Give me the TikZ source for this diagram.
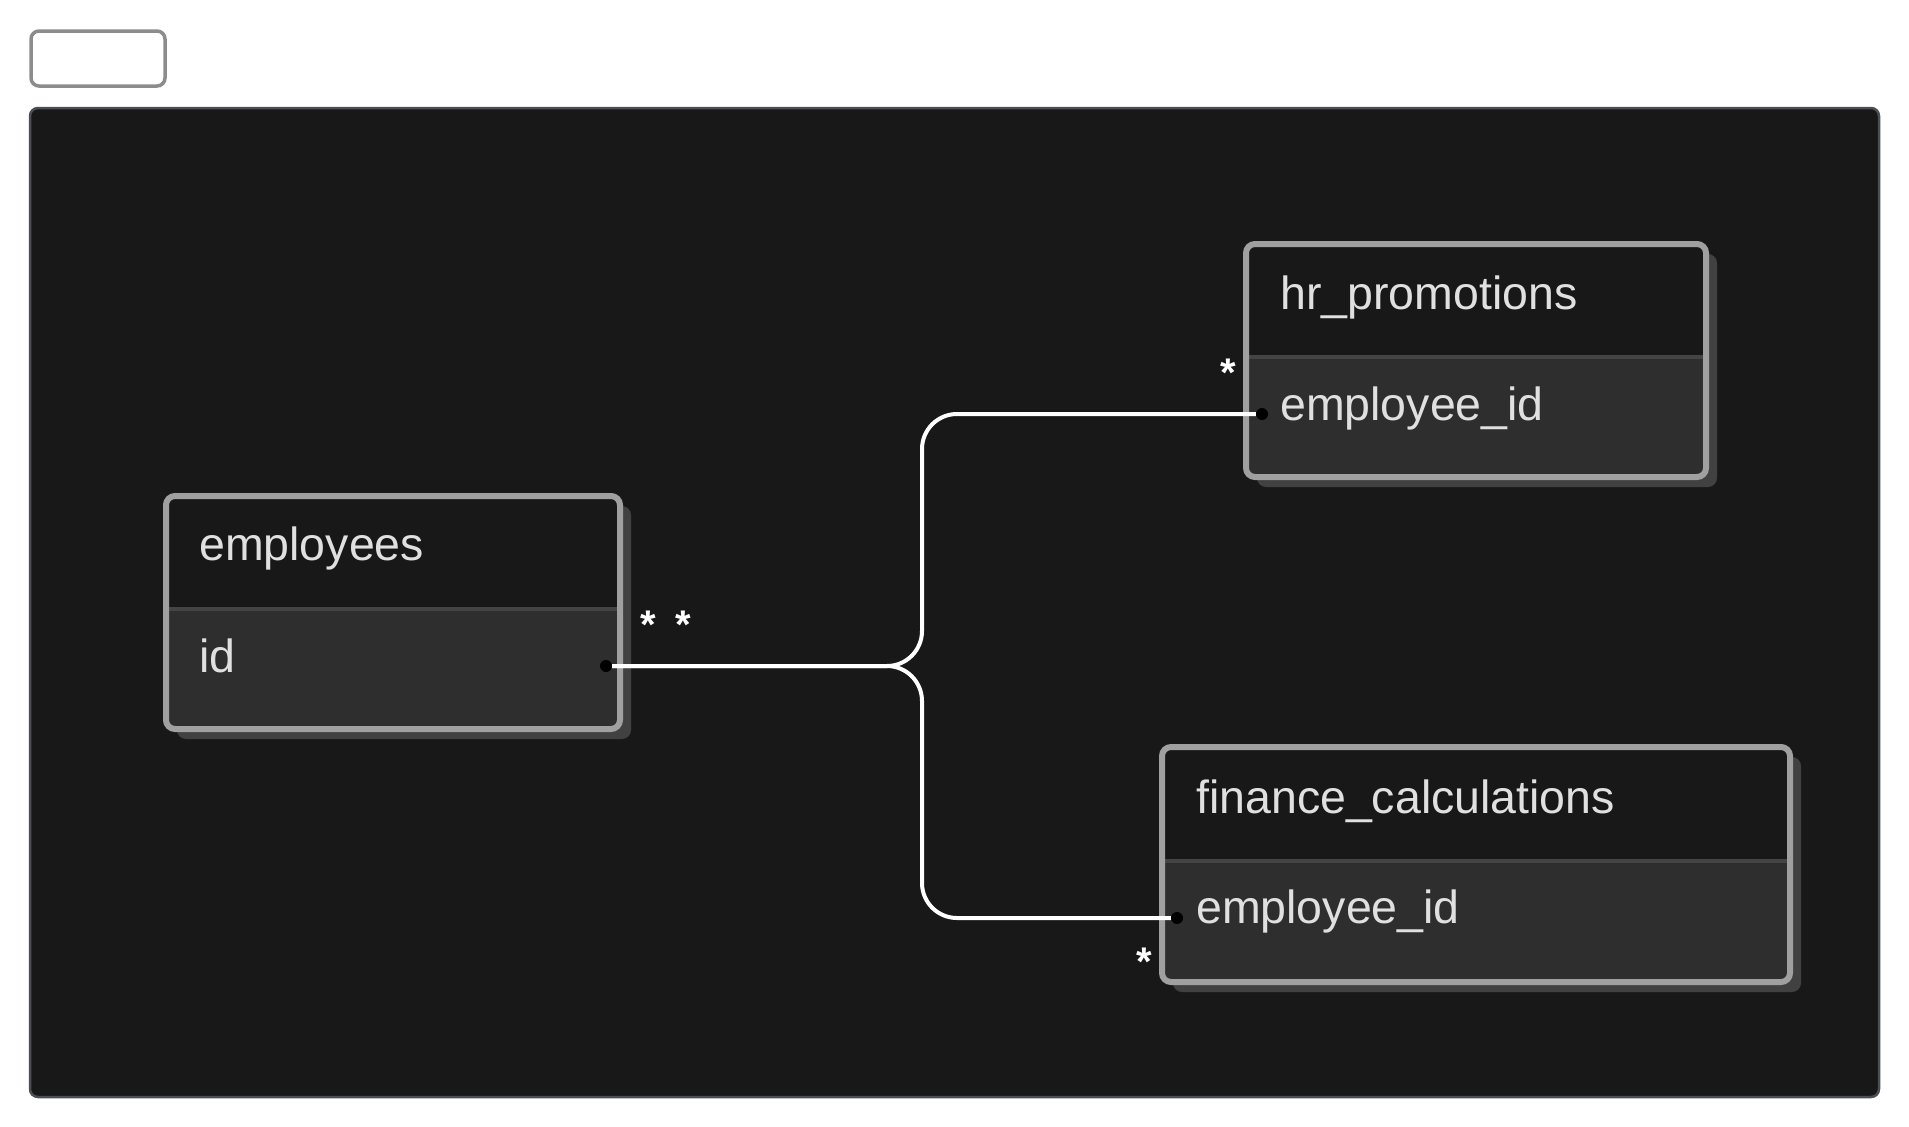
\documentclass[tikz,border=0pt]{standalone}
\usepackage{fontspec}
\setmainfont{Liberation Sans}
\usepackage{tikz}
\usetikzlibrary{shadows}

\definecolor{canvas}{HTML}{181818}
\definecolor{rowgray}{HTML}{2E2E2E}
\definecolor{framegray}{HTML}{A0A0A0}
\definecolor{shadowgray}{HTML}{414141}
\definecolor{splitgray}{HTML}{444444}
\definecolor{areaedge}{HTML}{4B4E53}
\definecolor{boxedge}{HTML}{8C8C8C}
\definecolor{labelgray}{HTML}{E0E0E0}

\begin{document}
\begin{tikzpicture}[x=1pt,y=-1pt,
  table/.style={rectangle, rounded corners=9pt, fill=rowgray, inner sep=0pt, outer sep=0pt, anchor=north west,
    drop shadow={shadow xshift=11pt, shadow yshift=-10pt, fill=shadowgray, opacity=1}},
  tablehead/.style={rectangle, fill=canvas, inner sep=0pt, outer sep=0pt, anchor=north west},
  tableborder/.style={draw=framegray, line width=6pt, rounded corners=9pt},
  divider/.style={draw=splitgray, line width=4pt},
  title/.style={anchor=base west, inner sep=0pt, text=labelgray, font=\fontsize{46.5}{55}\selectfont},
  keydot/.style={circle, fill=black, minimum size=12pt, inner sep=0pt},
  card/.style={anchor=base, inner sep=0pt, text=white, font=\bfseries\fontsize{40}{40}\selectfont},
  relation/.style={draw=white, line width=4pt, rounded corners=35pt}]
\fill[white] (0,0) rectangle (1909,1127);
\useasboundingbox (0,0) rectangle (1909,1127);

% empty caption box and diagram area
\node[draw=boxedge, line width=3.5pt, rounded corners=8pt, fill=white, inner sep=0pt, outer sep=0pt,
  minimum width=134pt, minimum height=55pt, anchor=north west] (caption) at (31,31) {};
\node[draw=areaedge, line width=2.5pt, rounded corners=8pt, fill=canvas, inner sep=0pt, outer sep=0pt,
  minimum width=1849pt, minimum height=989pt, anchor=north west] (area) at (30,108) {};

% employees
\node[table, minimum width=454pt, minimum height=233pt] (employees) at (166,496) {};
\node[tablehead, minimum width=454pt, minimum height=113pt] (employees-head) at (employees.north west) {};
\draw[divider] (employees-head.south west) -- (employees-head.south east);
\draw[tableborder] (employees.north west) rectangle (employees.south east);
\node[title] (employees-name) at (199,560) {employees};
\node[title] (employees-id) at (199,672) {id};
\node[keydot] (employees-key) at (606,666) {};

% hr_promotions
\node[table, minimum width=460pt, minimum height=233pt] (hr) at (1246,244) {};
\node[tablehead, minimum width=460pt, minimum height=113pt] (hr-head) at (hr.north west) {};
\draw[divider] (hr-head.south west) -- (hr-head.south east);
\draw[tableborder] (hr.north west) rectangle (hr.south east);
\node[title] (hr-name) at (1280,309) {hr\_promotions};
\node[title] (hr-eid) at (1280,420) {employee\_id};
\node[keydot] (hr-key) at (1262,414) {};

% finance_calculations
\node[table, minimum width=628pt, minimum height=235pt] (finance) at (1162,747) {};
\node[tablehead, minimum width=628pt, minimum height=114pt] (finance-head) at (finance.north west) {};
\draw[divider] (finance-head.south west) -- (finance-head.south east);
\draw[tableborder] (finance.north west) rectangle (finance.south east);
\node[title] (finance-name) at (1196,813) {finance\_calculations};
\node[title] (finance-eid) at (1196,923) {employee\_id};
\node[keydot] (finance-key) at (1177,918) {};

% relations
\coordinate (split) at (922,666);
\draw[relation] (employees-key) -- (split) |- (hr-key);
\draw[relation] (employees-key) -- (split) |- (finance-key);

% cardinalities
\node[card] (emp-many-a) at (648,638) {*};
\node[card] (emp-many-b) at (683,638) {*};
\node[card] (hr-many) at (1228,386) {*};
\node[card] (finance-many) at (1144,975) {*};
\end{tikzpicture}
\end{document}
